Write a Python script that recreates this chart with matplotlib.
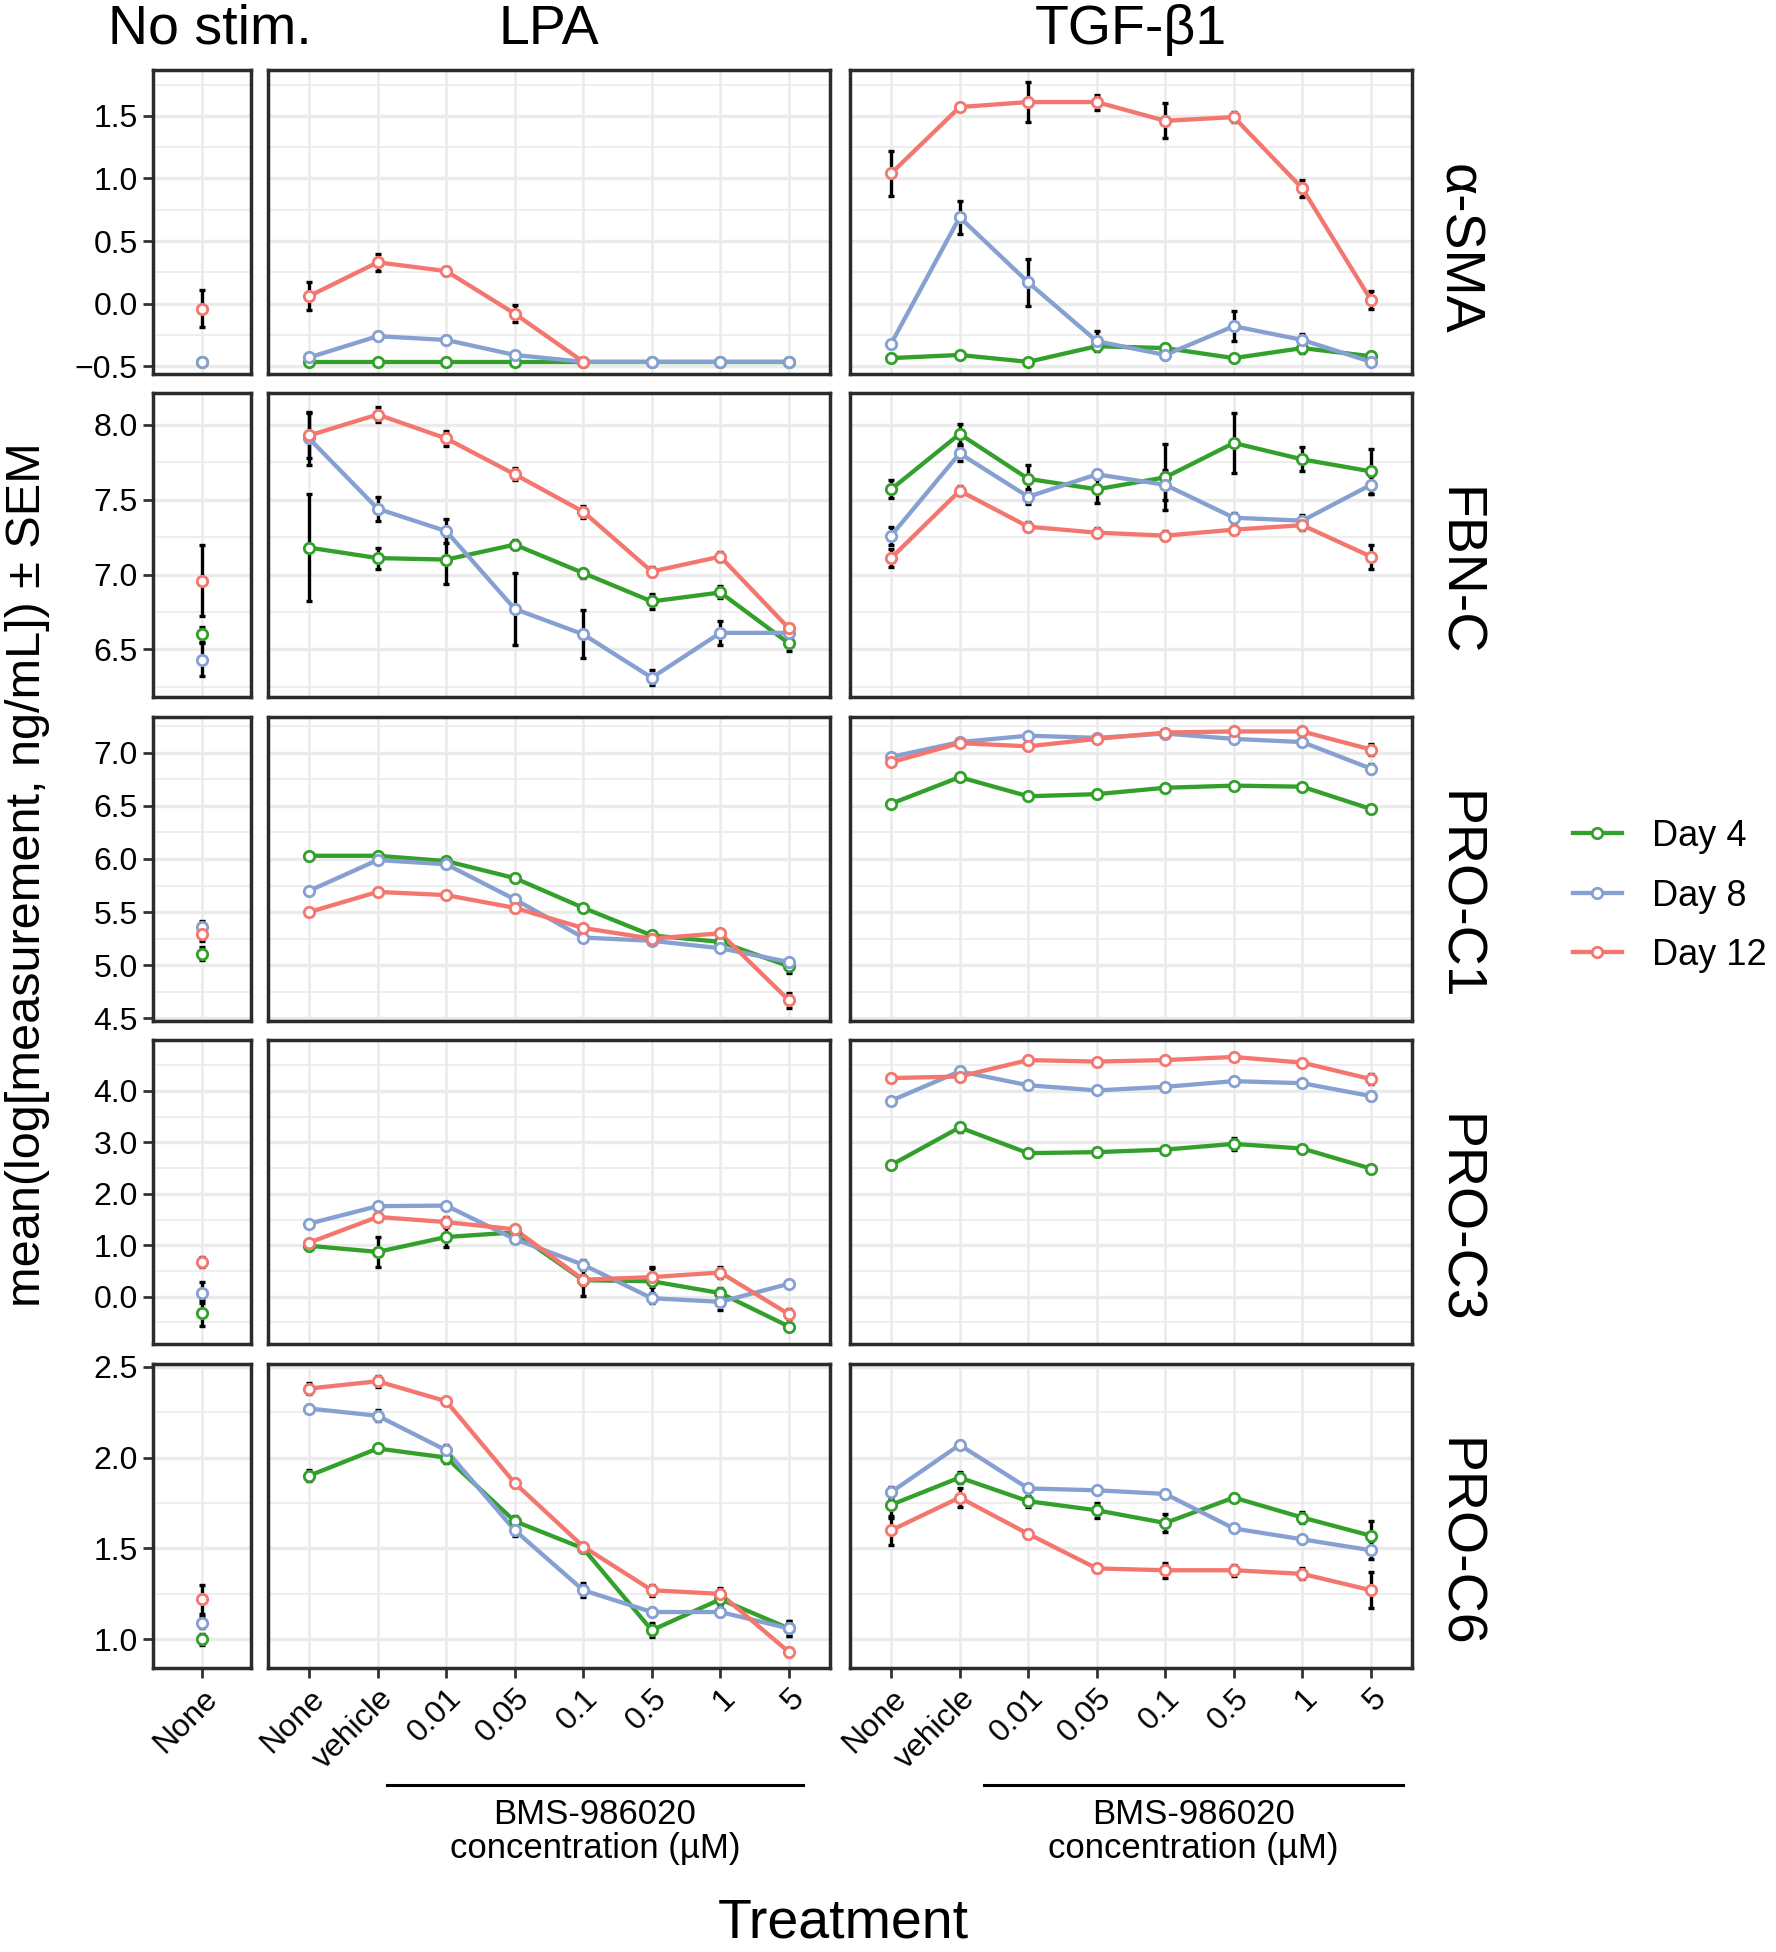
import numpy as np
import matplotlib
matplotlib.use("Agg")
import matplotlib.pyplot as plt
from matplotlib.lines import Line2D

plt.rcParams['font.family'] = ['Liberation Sans', 'DejaVu Sans']

nan = np.nan

days = ["Day 4", "Day 8", "Day 12"]
colors = ["#33A02C", "#86A0D2", "#F3776F"]
doses = ["None", "vehicle", "0.01", "0.05", "0.1", "0.5", "1", "5"]
markers = ["α-SMA", "FBN-C", "PRO-C1", "PRO-C3", "PRO-C6"]
columns = ["No stim.", "LPA", "TGF-β1"]

# each list: [No stim, LPA x 8 doses, TGF-b1 x 8 doses]
asma_d4 = [-0.47, -0.47, -0.47, -0.47, -0.47, -0.47, -0.47, -0.47, -0.47,
           -0.435, -0.41, -0.465, -0.34, -0.355, -0.435, -0.355, -0.42]
asma_d8 = [-0.465, -0.43, -0.26, -0.29, -0.41, -0.465, -0.465, -0.465, -0.465,
           -0.32, 0.69, 0.17, -0.30, -0.41, -0.18, -0.29, -0.465]
asma_d12 = [-0.04, 0.06, 0.33, 0.26, -0.08, -0.465, nan, nan, nan,
            1.04, 1.57, 1.61, 1.61, 1.46, 1.49, 0.92, 0.03]
asma_d4_sem = [0.01, 0.01, 0.01, 0.01, 0.01, 0.01, 0.01, 0.01, 0.01,
               0.02, 0.02, 0.02, 0.03, 0.03, 0.02, 0.04, 0.03]
asma_d8_sem = [0.01, 0.02, 0.03, 0.03, 0.02, 0.01, 0.01, 0.01, 0.01,
               0.02, 0.13, 0.19, 0.08, 0.03, 0.12, 0.05, 0.02]
asma_d12_sem = [0.15, 0.11, 0.07, 0.03, 0.07, 0.01, nan, nan, nan,
                0.18, 0.02, 0.16, 0.06, 0.14, 0.04, 0.07, 0.07]

fbn_d4 = [6.60, 7.18, 7.11, 7.10, 7.20, 7.01, 6.82, 6.88, 6.54,
          7.57, 7.94, 7.64, 7.57, 7.65, 7.88, 7.77, 7.69]
fbn_d8 = [6.43, 7.91, 7.44, 7.29, 6.77, 6.60, 6.31, 6.61, 6.61,
          7.26, 7.81, 7.52, 7.67, 7.60, 7.38, 7.36, 7.60]
fbn_d12 = [6.96, 7.93, 8.07, 7.91, 7.67, 7.42, 7.02, 7.12, 6.64,
           7.11, 7.56, 7.32, 7.28, 7.26, 7.30, 7.33, 7.12]
fbn_d4_sem = [0.05, 0.36, 0.07, 0.16, 0.03, 0.03, 0.05, 0.04, 0.05,
              0.06, 0.07, 0.09, 0.09, 0.22, 0.20, 0.08, 0.15]
fbn_d8_sem = [0.11, 0.18, 0.08, 0.08, 0.24, 0.16, 0.05, 0.08, 0.03,
              0.06, 0.05, 0.05, 0.03, 0.10, 0.03, 0.04, 0.06]
fbn_d12_sem = [0.24, 0.15, 0.05, 0.05, 0.04, 0.04, 0.03, 0.03, 0.03,
               0.06, 0.03, 0.03, 0.03, 0.03, 0.03, 0.03, 0.08]

proc1_d4 = [5.11, 6.03, 6.03, 5.98, 5.82, 5.54, 5.28, 5.22, 4.99,
            6.52, 6.77, 6.59, 6.61, 6.67, 6.69, 6.68, 6.47]
proc1_d8 = [5.36, 5.70, 5.99, 5.95, 5.62, 5.26, 5.23, 5.16, 5.03,
            6.96, 7.10, 7.16, 7.14, 7.18, 7.13, 7.10, 6.85]
proc1_d12 = [5.29, 5.50, 5.69, 5.66, 5.54, 5.35, 5.25, 5.30, 4.67,
             6.91, 7.09, 7.06, 7.13, 7.19, 7.20, 7.20, 7.03]
proc1_d4_sem = [0.06, 0.02, 0.02, 0.02, 0.03, 0.03, 0.03, 0.03, 0.06,
                0.02, 0.02, 0.02, 0.02, 0.02, 0.02, 0.02, 0.02]
proc1_d8_sem = [0.06, 0.02, 0.02, 0.02, 0.03, 0.03, 0.03, 0.03, 0.03,
                0.02, 0.02, 0.02, 0.02, 0.02, 0.02, 0.02, 0.04]
proc1_d12_sem = [0.06, 0.02, 0.02, 0.02, 0.04, 0.03, 0.03, 0.03, 0.07,
                 0.02, 0.02, 0.02, 0.02, 0.02, 0.02, 0.02, 0.05]

proc3_d4 = [-0.32, 0.99, 0.87, 1.16, 1.25, 0.32, 0.30, 0.07, -0.58,
            2.56, 3.29, 2.79, 2.81, 2.86, 2.97, 2.88, 2.49]
proc3_d8 = [0.08, 1.42, 1.76, 1.77, 1.12, 0.62, -0.03, -0.10, 0.25,
            3.81, 4.38, 4.11, 4.01, 4.08, 4.19, 4.15, 3.90]
proc3_d12 = [0.68, 1.05, 1.55, 1.45, 1.31, 0.33, 0.38, 0.47, -0.34,
             4.25, 4.28, 4.60, 4.57, 4.60, 4.66, 4.55, 4.23]
proc3_d4_sem = [0.25, 0.05, 0.29, 0.20, 0.05, 0.30, 0.25, 0.10, 0.05,
                0.03, 0.08, 0.05, 0.08, 0.05, 0.12, 0.05, 0.04]
proc3_d8_sem = [0.20, 0.05, 0.05, 0.05, 0.05, 0.10, 0.10, 0.15, 0.05,
                0.05, 0.05, 0.05, 0.05, 0.05, 0.05, 0.05, 0.08]
proc3_d12_sem = [0.10, 0.05, 0.05, 0.10, 0.05, 0.10, 0.20, 0.10, 0.10,
                 0.05, 0.05, 0.05, 0.05, 0.05, 0.05, 0.05, 0.10]

proc6_d4 = [1.00, 1.90, 2.05, 2.00, 1.65, 1.50, 1.05, 1.22, 1.06,
            1.74, 1.89, 1.76, 1.71, 1.64, 1.78, 1.67, 1.57]
proc6_d8 = [1.09, 2.27, 2.23, 2.04, 1.60, 1.27, 1.15, 1.15, 1.06,
            1.81, 2.07, 1.83, 1.82, 1.80, 1.61, 1.55, 1.49]
proc6_d12 = [1.22, 2.38, 2.42, 2.31, 1.86, 1.51, 1.27, 1.25, 0.93,
             1.60, 1.78, 1.58, 1.39, 1.38, 1.38, 1.36, 1.27]
proc6_d4_sem = [0.03, 0.03, 0.02, 0.03, 0.03, 0.02, 0.04, 0.03, 0.04,
                0.07, 0.03, 0.03, 0.04, 0.05, 0.02, 0.03, 0.08]
proc6_d8_sem = [0.03, 0.02, 0.03, 0.03, 0.03, 0.04, 0.02, 0.02, 0.04,
                0.03, 0.02, 0.02, 0.02, 0.02, 0.02, 0.02, 0.05]
proc6_d12_sem = [0.08, 0.03, 0.03, 0.02, 0.02, 0.02, 0.03, 0.03, 0.02,
                 0.08, 0.05, 0.02, 0.02, 0.04, 0.03, 0.03, 0.10]

means = [[asma_d4, asma_d8, asma_d12], [fbn_d4, fbn_d8, fbn_d12],
         [proc1_d4, proc1_d8, proc1_d12], [proc3_d4, proc3_d8, proc3_d12],
         [proc6_d4, proc6_d8, proc6_d12]]
sems = [[asma_d4_sem, asma_d8_sem, asma_d12_sem], [fbn_d4_sem, fbn_d8_sem, fbn_d12_sem],
        [proc1_d4_sem, proc1_d8_sem, proc1_d12_sem], [proc3_d4_sem, proc3_d8_sem, proc3_d12_sem],
        [proc6_d4_sem, proc6_d8_sem, proc6_d12_sem]]

y_limits = [(-0.562, 1.866), (6.181, 8.214), (4.475, 7.336), (-0.92, 4.99), (0.842, 2.515)]
y_major = [[-0.5, 0.0, 0.5, 1.0, 1.5], [6.5, 7.0, 7.5, 8.0], [4.5, 5.0, 5.5, 6.0, 6.5, 7.0],
           [0.0, 1.0, 2.0, 3.0, 4.0], [1.0, 1.5, 2.0, 2.5]]
y_minor = [[-0.25, 0.25, 0.75, 1.25, 1.75], [6.25, 6.75, 7.25, 7.75],
           [4.75, 5.25, 5.75, 6.25, 6.75, 7.25], [-0.5, 0.5, 1.5, 2.5, 3.5, 4.5],
           [1.25, 1.75, 2.25]]

# layout in pixels of the 1776 x 1952 figure
W, H = 1776, 1952
col_left = [153, 268, 850]
col_width = [98, 562, 562]
row_top = [70, 393, 717, 1040, 1364]
row_h = 304
col_slices = [slice(0, 1), slice(1, 9), slice(9, 17)]
col_labels = [["None"], doses, doses]

fig = plt.figure(figsize=(W / 100, H / 100), dpi=100)

for r in range(5):
    for c in range(3):
        ax = fig.add_axes([col_left[c] / W, 1 - (row_top[r] + row_h) / H,
                           col_width[c] / W, row_h / H])
        n = len(col_labels[c])
        xs = np.arange(n)
        for d in range(3):
            y = np.array(means[r][d], dtype=float)[col_slices[c]]
            e = np.array(sems[r][d], dtype=float)[col_slices[c]]
            ax.errorbar(xs, y, yerr=e, fmt='none', ecolor='black', elinewidth=2.4,
                        capsize=2.5, capthick=2.4, zorder=2.5)
            ax.plot(xs, y, color=colors[d], lw=3.1, zorder=3)
        for d in range(3):
            y = np.array(means[r][d], dtype=float)[col_slices[c]]
            ax.plot(xs, y, linestyle='none', marker='o', ms=7.5, mfc='white',
                    mec=colors[d], mew=2.0, zorder=4)

        ax.set_xlim(-0.6, n - 0.4)
        ax.set_ylim(*y_limits[r])
        ax.set_xticks(xs)
        ax.set_yticks(y_major[r])
        ax.set_yticks(y_minor[r], minor=True)
        ax.set_yticklabels([f"{v:.1f}".replace("-", "\u2212") for v in y_major[r]])
        ax.set_axisbelow(True)
        ax.grid(which='major', axis='y', color='#EBEBEB', lw=2.4)
        ax.grid(which='minor', axis='y', color='#EBEBEB', lw=1.2)
        ax.grid(which='major', axis='x', color='#EBEBEB', lw=1.8)
        for s in ax.spines.values():
            s.set_linewidth(2.5)
            s.set_color('#2B2B2B')
        ax.tick_params(which='minor', length=0)
        ax.tick_params(axis='both', which='major', width=2, color='#333333',
                       length=7, labelsize=23, labelcolor='black', pad=4)
        if c > 0:
            ax.tick_params(axis='y', which='major', length=0, labelleft=False)
        if r < 4:
            ax.tick_params(axis='x', length=0, labelbottom=False)
        else:
            ax.set_xticklabels(col_labels[c], rotation=45, ha='right', va='top',
                               rotation_mode='anchor')

# column titles
for c in range(3):
    cx = col_left[c] + col_width[c] / 2 + (8 if c == 0 else 0)
    fig.text(cx / W, 1 - 44 / H, columns[c], fontsize=40, ha='center', va='baseline')

# row strip labels
for r in range(5):
    cy = row_top[r] + row_h / 2 + 27
    fig.text(1443 / W, 1 - cy / H, markers[r], fontsize=40, rotation=-90,
             rotation_mode='anchor', ha='center', va='baseline')

# BMS-986020 brackets
for x0, x1 in [(387, 803), (984, 1403)]:
    fig.add_artist(Line2D([x0 / W, x1 / W], [1 - 1785 / H, 1 - 1785 / H],
                          color='black', lw=2.2))
    fig.text((x0 + x1) / 2 / W, 1 - 1824 / H, "BMS-986020", fontsize=25,
             ha='center', va='baseline')
    fig.text((x0 + x1) / 2 / W, 1 - 1858 / H, "concentration (µM)", fontsize=25,
             ha='center', va='baseline')

fig.text(843 / W, 1 - 1937 / H, "Treatment", fontsize=40, ha='center', va='baseline')
fig.text(28 / W, 1 - 875 / H, "mean(log[measurement, ng/mL]) ± SEM", fontsize=35,
         rotation=90, ha='center', va='center')

handles = [Line2D([], [], color=colors[d], lw=3.1, marker='o', ms=7.5, mfc='white',
                  mec=colors[d], mew=2.0) for d in range(3)]
fig.legend(handles, days, loc='center left', bbox_to_anchor=(1573 / W, 1 - 896 / H),
           frameon=False, fontsize=26, handlelength=1.35, handletextpad=0.85,
           labelspacing=0.68, borderpad=0, borderaxespad=0)

fig.savefig("out.png", dpi=100)
